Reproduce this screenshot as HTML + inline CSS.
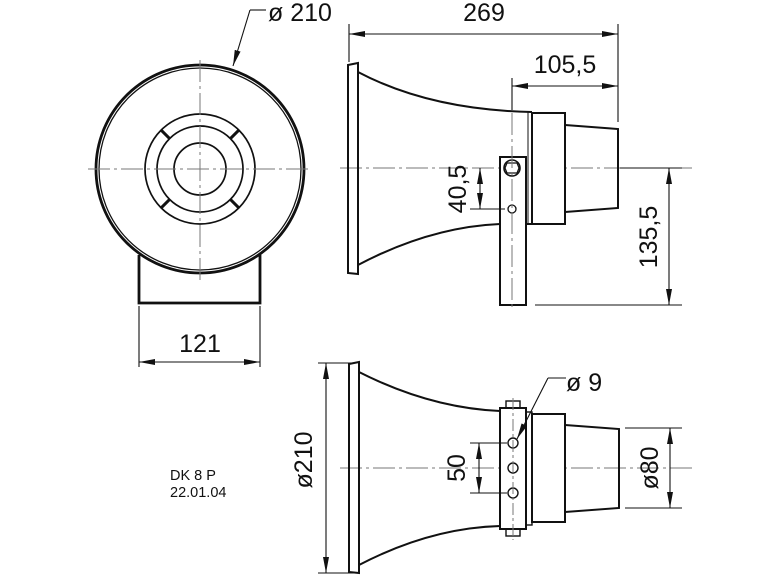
<!DOCTYPE html>
<html><head><meta charset="utf-8"><style>
html,body{margin:0;padding:0;background:#fff;}
svg{display:block}
text{font-family:"Liberation Sans",sans-serif;fill:#111}
</style></head><body>
<svg width="779" height="584" viewBox="0 0 779 584" xmlns="http://www.w3.org/2000/svg">
<defs>
<marker id="a" viewBox="0 0 16 6" refX="16" refY="3" markerWidth="16" markerHeight="6" orient="auto-start-reverse" markerUnits="userSpaceOnUse">
<path d="M0,0 L16,3 L0,6 z" fill="#111"/></marker>
</defs>
<g fill="none" stroke="#111">
<!-- Front view -->
<path d="M139,255 L139,303 L260,303 L260,255" stroke-width="2.8"/>
<circle cx="200" cy="169" r="104" stroke-width="2.8" fill="#fff"/>
<circle cx="200" cy="169" r="101" stroke-width="1.3"/>
<g stroke-width="1.7">
<circle cx="200" cy="169" r="55"/>
<circle cx="200" cy="169" r="43"/>
<circle cx="200" cy="169" r="26"/>
<line x1="230.4" y1="138.6" x2="238.9" y2="130.1" stroke-width="3"/>
<line x1="169.6" y1="138.6" x2="161.1" y2="130.1" stroke-width="3"/>
<line x1="230.4" y1="199.4" x2="238.9" y2="207.9" stroke-width="3"/>
<line x1="169.6" y1="199.4" x2="161.1" y2="207.9" stroke-width="3"/>
</g>
<g stroke-width="1" stroke="#777" stroke-dasharray="22,4,3,4">
<line x1="200" y1="60" x2="200" y2="280"/>
<line x1="88" y1="169" x2="312" y2="169"/>
</g>
<g stroke-width="1.1">
<polyline points="250,10 266,10"/>
<line x1="250" y1="10" x2="233" y2="66" marker-end="url(#a)"/>
<line x1="139" y1="306" x2="139" y2="367"/>
<line x1="260" y1="306" x2="260" y2="367"/>
<line x1="139" y1="362" x2="260" y2="362" marker-start="url(#a)" marker-end="url(#a)"/>
</g>

<!-- Side view top -->
<g stroke="#777" stroke-width="1" stroke-dasharray="22,4,3,4">
<line x1="340" y1="168" x2="692" y2="168"/>
</g>
<g stroke-width="2">
<path d="M348,65 L358,63 L358,274 L348,273 Z"/>
<path d="M358,72 Q430,110 532,112"/>
<path d="M358,265 Q430,227 500,224"/>
<line x1="526" y1="224" x2="532" y2="224"/>
<rect x="532" y="113" width="33" height="111" fill="#fff"/>
<line x1="528" y1="112" x2="528" y2="225" stroke-width="1"/>
<path d="M565,125 L618,129 L618,208 L565,212"/>
<rect x="500" y="157" width="26" height="148" fill="#fff"/>
<circle cx="512" cy="168" r="8" stroke-width="1.6"/>
<polygon points="507,163 517,163 519,168 517,173 507,173 505,168" stroke-width="1.2"/>
<circle cx="512" cy="209" r="4" stroke-width="1.3"/>
</g>
<g stroke="#777" stroke-width="1" stroke-dasharray="22,4,3,4">
<line x1="512" y1="80" x2="512" y2="310"/>
</g>
<g stroke-width="1.1">
<line x1="349" y1="24" x2="349" y2="62"/>
<line x1="618" y1="24" x2="618" y2="122"/>
<line x1="349" y1="34" x2="618" y2="34" marker-start="url(#a)" marker-end="url(#a)"/>
<line x1="512" y1="78" x2="512" y2="110"/>
<line x1="512" y1="86" x2="618" y2="86" marker-start="url(#a)" marker-end="url(#a)"/>
<line x1="470" y1="209" x2="505" y2="209"/>
<line x1="480" y1="168" x2="480" y2="209" marker-start="url(#a)" marker-end="url(#a)"/>
<line x1="535" y1="305" x2="682" y2="305"/>
<line x1="620" y1="168" x2="682" y2="168"/>
<line x1="669" y1="168" x2="669" y2="305" marker-start="url(#a)" marker-end="url(#a)"/>
</g>

<!-- Side view bottom -->
<g stroke="#777" stroke-width="1" stroke-dasharray="22,4,3,4">
<line x1="340" y1="468" x2="692" y2="468"/>
</g>
<g stroke-width="2">
<path d="M349,364 L359,362 L359,573 L349,572 Z"/>
<path d="M359,372 Q430,408 500,411"/>
<path d="M359,565 Q430,528 500,526"/>
<rect x="506" y="401" width="14" height="7" stroke-width="1.4"/>
<rect x="506" y="529" width="14" height="7" stroke-width="1.4"/>
<rect x="500" y="408" width="26" height="121" fill="#fff"/>
<rect x="526" y="412" width="6" height="113" stroke-width="1.4"/>
<rect x="532" y="414" width="33" height="108" fill="#fff"/>
<path d="M565,425 L619,429 L619,508 L565,512"/>
<circle cx="513" cy="443" r="5" stroke-width="1.4"/>
<circle cx="513" cy="468" r="5" stroke-width="1.4"/>
<circle cx="513" cy="493" r="5" stroke-width="1.4"/>
</g>
<g stroke="#777" stroke-width="1" stroke-dasharray="12,3,3,3">
<line x1="513" y1="398" x2="513" y2="540"/>
</g>
<g stroke-width="1.1">
<line x1="548" y1="378" x2="566" y2="378"/>
<line x1="548" y1="378" x2="517" y2="439" marker-end="url(#a)"/>
<line x1="470" y1="443" x2="507" y2="443"/>
<line x1="470" y1="493" x2="507" y2="493"/>
<line x1="479" y1="443" x2="479" y2="493" marker-start="url(#a)" marker-end="url(#a)"/>
<line x1="625" y1="428" x2="682" y2="428"/>
<line x1="625" y1="508" x2="682" y2="508"/>
<line x1="670" y1="428" x2="670" y2="508" marker-start="url(#a)" marker-end="url(#a)"/>
<line x1="318" y1="363" x2="355" y2="363"/>
<line x1="318" y1="573" x2="355" y2="573"/>
<line x1="326" y1="363" x2="326" y2="573" marker-start="url(#a)" marker-end="url(#a)"/>
</g>
</g>

<g font-size="25">
<text x="268" y="21">ø 210</text>
<text x="200" y="352" text-anchor="middle">121</text>
<text x="484" y="21" text-anchor="middle">269</text>
<text x="565" y="73" text-anchor="middle">105,5</text>
<text x="566" y="391">ø 9</text>
<text transform="translate(466,189) rotate(-90)" text-anchor="middle">40,5</text>
<text transform="translate(657,237) rotate(-90)" text-anchor="middle">135,5</text>
<text transform="translate(465,468) rotate(-90)" text-anchor="middle">50</text>
<text transform="translate(658,468) rotate(-90)" text-anchor="middle">ø80</text>
<text transform="translate(312,460) rotate(-90)" text-anchor="middle">ø210</text>
</g>
<g font-size="14.5">
<text x="170" y="480">DK 8 P</text>
<text x="170" y="497">22.01.04</text>
</g>
</svg>
</body></html>
